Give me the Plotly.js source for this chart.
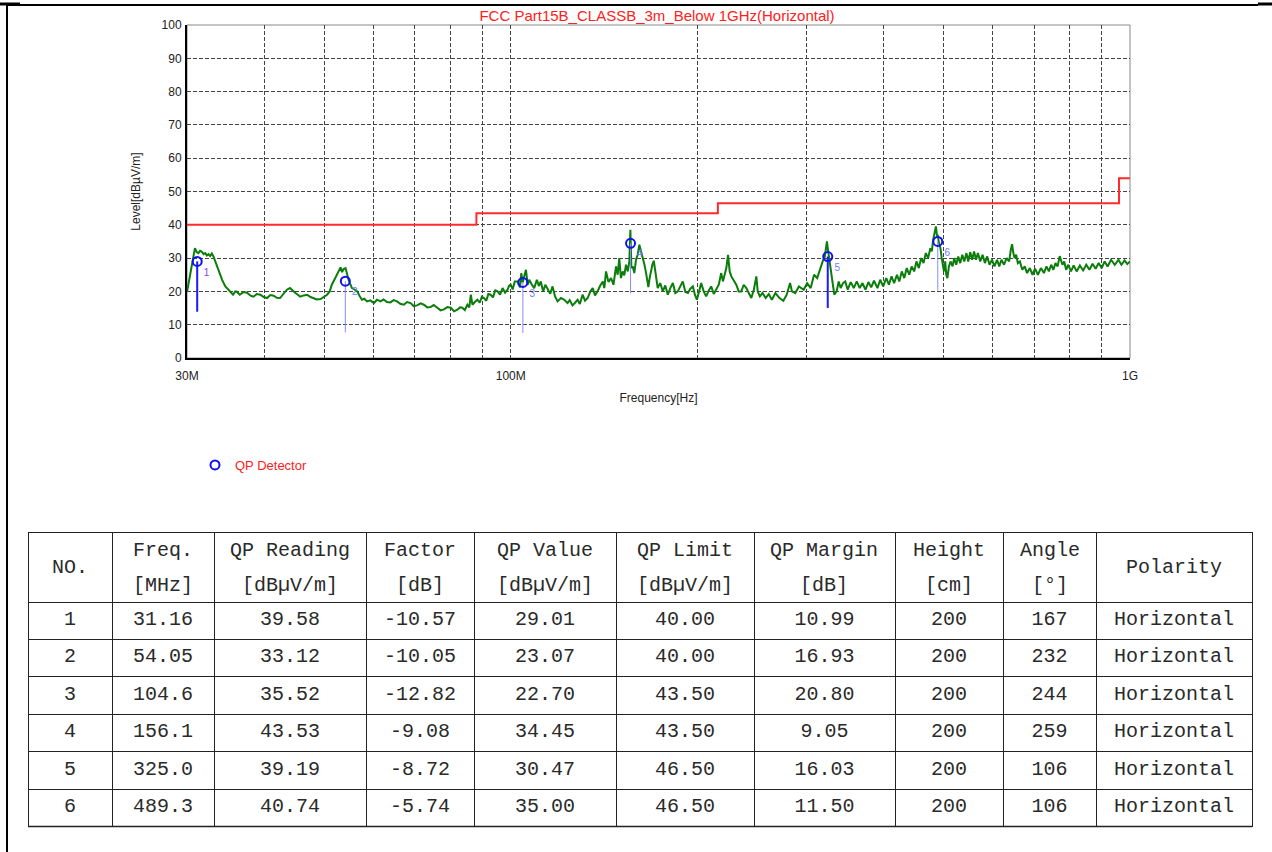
<!DOCTYPE html>
<html><head><meta charset="utf-8">
<script src="https://cdn.plot.ly/plotly-3.0.1.min.js"></script>
<style>html,body{margin:0;padding:0;background:#fff}#chart{width:1272px;height:852px}</style>
</head><body><div id="chart"></div><script>
const chartTitle = 'FCC Part15B_CLASSB_3m_Below 1GHz(Horizontal)';
const xTickVals = [30,40,50,60,70,80,90,100,200,300,400,500,600,700,800,900,1000];
const xTickText = ['30M','','','','','','','100M','','','','','','','','','1G'];
const limitFreq = [30, 88, 216, 960, 1000];
const limitLevel = [40, 43.5, 46.5, 54, 54];

const scanFreq = [
30.0,30.3,30.6,30.9,31.1,31.3,31.5,31.7,31.9,32.1,
32.3,32.5,32.7,32.9,33.1,33.3,33.5,33.9,34.2,34.6,
35.0,35.3,35.6,35.9,36.1,36.5,37.0,37.5,38.0,38.4,
38.9,39.4,39.9,40.4,40.9,41.4,41.9,42.4,42.9,43.5,
44.0,44.4,44.9,45.3,45.7,46.3,46.9,47.5,48.0,48.6,
49.3,49.9,50.5,51.0,51.4,51.9,52.4,52.8,53.1,53.4,
53.7,54.1,54.4,54.7,55.1,55.4,56.0,56.5,57.0,57.5,
58.0,58.6,59.3,60.1,60.8,61.6,62.3,63.1,63.9,64.7,
65.5,66.3,67.2,68.0,68.9,69.7,70.6,71.5,72.4,73.3,
74.2,75.1,76.1,77.0,78.0,79.0,80.0,81.0,82.0,82.8,
83.5,84.3,85.1,85.7,86.2,86.7,87.5,88.3,89.1,89.8,
90.5,91.3,92.0,92.8,93.6,94.4,95.2,96.1,97.0,97.9,
98.8,99.4,100.0,100.7,101.5,102.5,103.5,104.0,104.5,105.2,
105.8,106.5,107.1,108.0,109.1,110.2,111.0,111.8,112.8,113.7,
114.7,115.8,116.8,117.9,119.0,120.5,122.0,123.5,124.5,125.8,
127.0,128.2,129.3,130.6,131.8,133.1,134.3,135.6,136.8,138.1,
139.4,140.8,141.6,142.5,143.8,145.2,146.5,147.9,148.8,149.7,
150.6,151.6,152.5,153.5,154.5,155.4,156.0,156.6,157.4,158.3,
159.3,160.3,161.3,162.3,163.4,164.4,165.4,166.8,167.6,168.5,
169.3,170.2,171.4,172.7,174.3,176.0,177.6,179.3,181.0,182.7,
184.4,186.1,187.8,189.6,191.4,193.2,195.0,196.8,198.3,199.8,
201.4,203.0,204.9,206.8,208.7,210.7,212.7,214.7,216.7,218.7,
220.1,221.5,222.9,224.3,225.7,227.1,229.2,231.3,233.4,235.6,
237.8,240.1,242.3,244.6,246.9,249.2,250.5,252.5,255.0,258.0,
261.0,264.0,267.5,271.6,275.5,279.0,282.5,284.5,288.0,292.0,
297.2,301.0,305.0,308.9,312.5,316.0,319.0,321.5,324.0,325.0,
326.5,328.5,331.0,333.0,335.9,338.5,341.0,344.0,346.8,350.0,
354.0,358.0,362.0,366.0,369.8,374.0,378.0,382.0,386.0,391.0,
395.0,399.4,404.0,408.0,412.0,416.0,420.4,424.0,428.0,432.0,
436.0,440.0,444.0,448.2,452.0,456.0,460.0,464.0,468.0,472.0,
476.0,478.6,481.0,483.5,485.9,488.0,489.3,491.0,494.2,496.5,
498.5,500.7,503.0,505.0,507.1,510.0,513.0,517.0,520.0,524.0,
528.0,532.0,536.0,540.0,544.3,548.0,552.0,556.0,560.0,564.0,
568.0,573.0,578.0,583.0,588.0,593.0,598.6,604.0,610.0,615.0,
620.0,626.0,632.0,638.0,642.0,645.0,648.0,651.0,654.8,659.0,
664.0,670.0,676.1,682.0,689.0,696.0,702.6,710.0,718.0,726.0,
733.0,739.6,746.0,752.0,758.0,764.0,770.0,773.5,778.0,783.0,
788.6,795.0,803.0,811.0,820.0,830.0,840.0,850.0,860.0,870.0,
880.0,890.0,900.0,910.0,920.0,932.0,945.0,958.0,968.6,980.0,
990.0,1000.0];

const scanLevel = [
19.8,24.0,29.0,33.0,31.8,31.5,32.2,31.9,31.2,31.5,
30.8,31.2,30.6,31.4,30.5,29.2,27.5,25.0,23.4,21.5,
20.5,19.6,19.0,20.0,19.9,19.0,19.8,19.6,18.7,18.4,
19.2,19.0,18.3,18.0,18.9,18.7,18.1,18.0,19.2,20.5,
21.0,20.2,19.5,19.0,18.4,18.8,19.0,18.3,18.0,17.6,
17.7,18.5,19.0,20.0,22.0,23.5,25.0,26.5,27.2,25.8,
26.7,27.0,25.0,23.5,22.0,21.0,20.5,20.0,18.6,17.5,
17.8,17.0,17.3,16.5,17.5,17.0,17.6,16.8,16.7,17.4,
17.0,16.3,16.0,16.8,16.5,15.6,15.8,16.4,16.0,15.2,
15.3,15.9,15.1,14.3,14.6,15.3,15.1,14.0,14.5,15.2,
15.1,14.4,16.0,15.2,19.0,16.0,16.8,17.5,16.6,18.4,
18.0,17.2,19.2,19.0,18.2,20.3,20.0,19.0,21.0,19.6,
20.5,21.8,22.0,20.6,23.0,23.0,21.2,25.5,22.7,24.5,
26.5,22.0,23.5,22.2,21.0,23.5,21.6,23.0,20.0,22.0,
20.5,19.3,21.5,18.5,17.0,18.0,17.5,16.5,17.4,15.8,
16.6,17.5,16.2,19.0,17.2,18.0,19.8,21.0,18.8,20.0,
21.7,23.0,21.0,26.0,22.8,24.0,22.0,27.5,25.0,30.0,
24.0,26.0,24.8,28.0,26.0,29.0,38.5,27.0,27.5,25.5,
29.5,31.0,34.0,32.0,30.5,28.0,25.5,21.3,24.0,26.5,
28.0,29.2,25.0,21.0,22.5,20.0,21.8,19.0,21.0,22.5,
19.5,20.0,21.5,23.0,19.8,19.5,20.8,21.5,19.0,17.5,
20.0,22.5,20.0,18.5,20.2,21.5,19.2,20.5,22.0,25.5,
23.0,25.0,27.0,31.0,26.0,24.5,23.0,22.0,20.0,20.0,
22.0,21.0,19.5,18.0,20.5,24.5,20.0,18.5,19.5,18.0,
19.2,17.5,19.5,18.0,17.2,19.0,22.5,20.0,19.5,21.5,
20.5,22.5,21.0,25.0,24.0,27.0,29.1,30.5,35.0,33.0,
30.0,26.5,22.0,19.0,20.0,23.0,21.0,22.5,23.0,20.5,
22.8,21.0,23.0,21.0,22.5,20.5,22.8,21.2,23.2,21.0,
23.5,21.5,24.0,22.0,24.5,22.5,25.0,23.0,26.0,24.0,
27.0,25.0,27.5,26.0,29.0,27.0,30.0,28.5,31.5,30.0,
33.0,32.0,35.5,37.5,39.5,36.5,37.0,35.0,33.0,30.0,
27.5,26.0,29.0,25.0,24.0,27.5,29.0,27.5,30.0,28.0,
30.5,28.5,31.0,29.0,31.5,29.0,31.8,29.5,32.0,29.5,
31.5,29.0,31.0,28.5,30.5,28.0,29.5,27.5,29.5,27.5,
29.5,28.0,30.0,29.0,32.5,34.2,31.5,30.0,31.0,28.5,
29.0,26.5,27.5,25.5,27.0,25.0,26.8,25.0,27.0,25.5,
27.5,26.0,28.0,26.5,28.5,27.5,30.6,29.5,28.0,29.0,
26.5,28.0,26.0,27.8,26.0,27.8,26.3,28.0,26.5,28.3,
26.8,28.5,27.0,29.0,27.5,29.5,28.0,29.5,28.0,29.3,
28.2,29.0];

const markerNo = [1, 2, 3, 4, 5, 6];
const markerFreq = [31.16, 54.05, 104.6, 156.1, 325.0, 489.3];
const qpReading = [39.58, 33.12, 35.52, 43.53, 39.19, 40.74];
const factorDb = [-10.57, -10.05, -12.82, -9.08, -8.72, -5.74];
const qpValue = [29.01, 23.07, 22.70, 34.45, 30.47, 35.00];
const qpLimit = [40.00, 40.00, 43.50, 43.50, 46.50, 46.50];
const qpMargin = [10.99, 16.93, 20.80, 9.05, 16.03, 11.50];
const antHeight = [200, 200, 200, 200, 200, 200];
const antAngle = [167, 232, 244, 259, 106, 106];
const polarity = ['Horizontal','Horizontal','Horizontal','Horizontal','Horizontal','Horizontal'];
const stemLow = [13.9, 7.7, 7.5, 19.4, 15.0, 20.2];
const tableHeader = ['NO.', 'Freq.<br>[MHz]', 'QP Reading<br>[dBµV/m]', 'Factor<br>[dB]', 'QP Value<br>[dBµV/m]',
  'QP Limit<br>[dBµV/m]', 'QP Margin<br>[dB]', 'Height<br>[cm]', 'Angle<br>[°]', 'Polarity'];

const W = 1272, H = 852;
const px = (x) => x / W;
const py = (y) => 1 - y / H;

function stems(idx) {
  const x = [], y = [];
  idx.forEach(i => { x.push(markerFreq[i], markerFreq[i], null); y.push(stemLow[i], qpValue[i], null); });
  return {x, y};
}
const sDark = stems([0, 4]);
const sLight = stems([1, 2, 3, 5]);

// table geometry (style)
const tableLeft = 28, tableRight = 1252, tableTop = 532, headerH = 70, rowH = 37.4;
const colW = [84,102,152,108,142,138,141,108,93,156];
const monoFont = 'Liberation Mono, Courier New, monospace';
const tableFont = {family: monoFont, size: 20, color: '#2a2a2a'};
const tableBottom = tableTop + headerH + 6 * rowH;

const headerAnn = [];
let cx = tableLeft;
tableHeader.forEach((h, i) => {
  const center = cx + colW[i] / 2;
  const parts = h.split('<br>');
  const ys = parts.length === 2 ? [tableTop + 18, tableTop + 53] : [tableTop + 35];
  parts.forEach((p, k) => headerAnn.push({xref:'paper', yref:'paper', x: px(center), y: py(ys[k]),
    xanchor:'center', yanchor:'middle', text: p, showarrow:false, font: tableFont}));
  cx += colW[i];
});

const f2 = v => v.toFixed(2);
const traces = [
  {type:'scatter', mode:'lines', x: limitFreq, y: limitLevel, line:{shape:'hv', color:'#ff2b2b', width:2}, showlegend:false, hoverinfo:'skip'},
  {type:'scatter', mode:'lines', x: scanFreq, y: scanLevel, line:{color:'#0a7d0a', width:2}, showlegend:false, hoverinfo:'skip'},
  {type:'scatter', mode:'lines', x: sLight.x, y: sLight.y, line:{color:'#8a8aff', width:1}, showlegend:false, hoverinfo:'skip'},
  {type:'scatter', mode:'lines', x: sDark.x, y: sDark.y, line:{color:'#1a1aff', width:2}, showlegend:false, hoverinfo:'skip'},
  {type:'scatter', mode:'markers', name:'QP Detector', x: markerFreq, y: qpValue,
   marker:{symbol:'circle-open', size:9, color:'#1010f0', line:{width:2, color:'#1010f0'}}, showlegend:true},
  {type:'scatter', mode:'markers+text', x: markerFreq, y: qpValue, text: markerNo.map(String), textposition:'bottom right',
   marker:{size:9, color:'rgba(0,0,0,0)'},
   textfont:{family:'Liberation Sans, Arial', size:10, color: markerNo.map(n => n === 1 ? '#8a3cf0' : '#6f7cff')}, showlegend:false, hoverinfo:'skip'},
  {type:'table', domain:{x:[px(tableLeft), px(tableRight)], y:[py(tableBottom + 3), py(tableTop)]},
   columnwidth: colW,
   header:{values: tableHeader.map(() => ''), height: headerH, align:'center', line:{color:'#222', width:1}, fill:{color:'#fff'}, font: tableFont},
   cells:{values:[markerNo, markerFreq.map(v => v.toPrecision(4)), qpReading.map(f2), factorDb.map(f2), qpValue.map(f2),
       qpLimit.map(f2), qpMargin.map(f2), antHeight, antAngle, polarity],
     height: rowH, align:'center', line:{color:'#222', width:1}, fill:{color:'#fff'}, font: tableFont}}
];

const axisFont = {family:'Liberation Sans, Arial, sans-serif', size:12, color:'#222'};
const layout = {
  width: W, height: H,
  margin:{l:0, r:0, t:0, b:0},
  paper_bgcolor:'#fff', plot_bgcolor:'#fff',
  title:{text: chartTitle, x: px(657), y: py(16), xanchor:'center', yanchor:'middle',
    font:{family:'Liberation Sans, Arial, sans-serif', size:15, color:'#ff2020'}},
  xaxis:{type:'log', domain:[px(187), px(1130)], range:[Math.log10(30), 3], tickmode:'array', tickvals:xTickVals, ticktext:xTickText,
    showgrid:true, gridcolor:'#444', griddash:'4px,2px', gridwidth:1, showline:true, linecolor:'#000', linewidth:2,
    ticks:'', ticklabelstandoff:6, tickfont:axisFont, zeroline:false,
    title:{text:'Frequency[Hz]', font:axisFont, standoff:11}},
  yaxis:{domain:[py(358), py(25)], range:[0, 100], tickmode:'array', tickvals:[0,10,20,30,40,50,60,70,80,90,100],
    showgrid:true, gridcolor:'#444', griddash:'4px,2px', gridwidth:1, showline:true, linecolor:'#000', linewidth:2,
    ticks:'', ticklabelstandoff:1, tickfont:axisFont, zeroline:false,
    title:{text:'Level[dBµV/m]', font:axisFont, standoff:18}},
  legend:{x: px(195), y: py(465), xanchor:'left', yanchor:'middle', bgcolor:'rgba(0,0,0,0)',
    font:{family:'Liberation Sans, Arial, sans-serif', size:13, color:'#ff2020'}},
  annotations: headerAnn,
  shapes:[
    {type:'rect', xref:'x domain', yref:'y domain', x0:0, x1:1, y0:0, y1:1, line:{color:'#888', width:1}, layer:'below'},
    {type:'line', xref:'paper', yref:'paper', x0:px(tableLeft), x1:px(tableRight), y0:py(tableBottom), y1:py(tableBottom), line:{color:'#222', width:1.5}},
    {type:'line', xref:'paper', yref:'paper', x0:px(7), x1:px(1258), y0:py(5), y1:py(5), line:{color:'#000', width:2}},
    {type:'line', xref:'paper', yref:'paper', x0:px(7), x1:px(7), y0:py(5), y1:0, line:{color:'#000', width:2}},
    {type:'line', xref:'paper', yref:'paper', x0:0, x1:px(20), y0:py(4), y1:py(4), line:{color:'#000', width:3}},
    {type:'line', xref:'paper', yref:'paper', x0:px(1258), x1:1, y0:py(4), y1:py(4), line:{color:'#000', width:3}}
  ]
};
Plotly.newPlot('chart', traces, layout, {staticPlot:true, displayModeBar:false});
</script></body></html>
